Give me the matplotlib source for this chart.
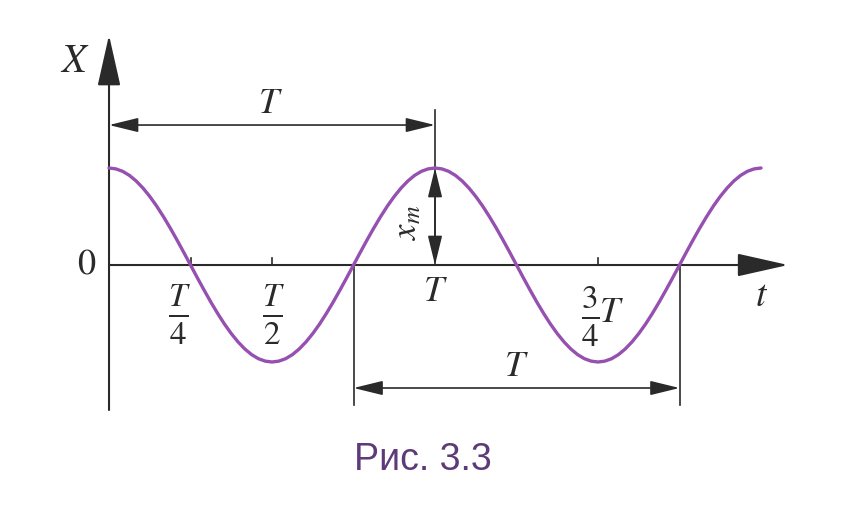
import matplotlib
matplotlib.use("Agg")
import matplotlib.pyplot as plt

plt.rcParams["mathtext.fontset"] = "stix"
plt.rcParams["font.family"] = ["Liberation Serif", "DejaVu Serif"]

# time in units of T, displacement in units of x_m (read at T/48 steps)
t_vals = [k / 48 for k in range(97)]
x_period = [1.0, 0.991, 0.966, 0.924, 0.866, 0.793, 0.707, 0.609, 0.5, 0.383, 0.259, 0.131,
            0.0, -0.131, -0.259, -0.383, -0.5, -0.609, -0.707, -0.793, -0.866, -0.924, -0.966, -0.991,
            -1.0, -0.991, -0.966, -0.924, -0.866, -0.793, -0.707, -0.609, -0.5, -0.383, -0.259, -0.131,
            0.0, 0.131, 0.259, 0.383, 0.5, 0.609, 0.707, 0.793, 0.866, 0.924, 0.966, 0.991]
x_vals = x_period + x_period + [1.0]

tick_pos = [0.25, 0.5, 1.5]
tick_labels = [r"$\frac{T}{4}$", r"$\frac{T}{2}$", r"$\frac{3}{4}$"]
label_x = [0.215, 0.505, 1.475]

axis_col = "#2a2a2a"
curve_col = "#9550b0"
cap_col = "#5e3a78"

fig = plt.figure(figsize=(8.49, 5.24), dpi=100)
ax = fig.add_axes([0, 0, 1, 1])
ax.set_xlim(-0.3344, 2.2699)
ax.set_ylim(-2.670, 2.732)
ax.axis("off")

# axes with arrows
big_head = "-|>,head_length=1.6,head_width=0.36"
ax.annotate("", xy=(0, 2.37), xytext=(0, -1.495),
            arrowprops=dict(arrowstyle=big_head, color=axis_col, lw=1.5,
                            mutation_scale=20, shrinkA=0, shrinkB=0))
ax.annotate("", xy=(2.083, 0), xytext=(0, 0),
            arrowprops=dict(arrowstyle=big_head, color=axis_col, lw=1.5,
                            mutation_scale=20, shrinkA=0, shrinkB=0))

# ticks
for p in tick_pos:
    ax.plot([p, p], [0, 0.075], color=axis_col, lw=1.2)

# curve
ax.plot(t_vals, x_vals, color=curve_col, lw=2.4, solid_capstyle="round", zorder=3)

# period markers
small_head = "<|-|>,head_length=0.9,head_width=0.22"
ax.plot([1, 1], [0, 1.6], color=axis_col, lw=1.2)
ax.annotate("", xy=(0, 1.443), xytext=(1, 1.443),
            arrowprops=dict(arrowstyle=small_head, color=axis_col, lw=1.2,
                            mutation_scale=20, shrinkA=0, shrinkB=0))
ax.text(0.494, 1.65, "$T$", fontsize=26, ha="center", va="center", color=axis_col)

ax.plot([0.75, 0.75], [0, -1.443], color=axis_col, lw=1.2)
ax.plot([1.75, 1.75], [0, -1.443], color=axis_col, lw=1.2)
ax.annotate("", xy=(0.75, -1.268), xytext=(1.75, -1.268),
            arrowprops=dict(arrowstyle=small_head, color=axis_col, lw=1.2,
                            mutation_scale=20, shrinkA=0, shrinkB=0))
ax.text(1.25, -1.06, "$T$", fontsize=26, ha="center", va="center", color=axis_col)

# amplitude
ax.annotate("", xy=(1, 1.0), xytext=(1, 0),
            arrowprops=dict(arrowstyle=small_head, color=axis_col, lw=1.2,
                            mutation_scale=20, shrinkA=0, shrinkB=0))
ax.text(0.917, 0.44, "$x_m$", fontsize=25, rotation=90, ha="center", va="center",
        color=axis_col)

# labels
ax.text(-0.07, 0, "$0$", fontsize=26, ha="center", va="center", color=axis_col)
ax.text(-0.104, 2.09, "$X$", fontsize=29, ha="center", va="center", color=axis_col)
ax.text(2.003, -0.33, "$t$", fontsize=27, ha="center", va="center", color=axis_col)
ax.text(1.0, -0.28, "$T$", fontsize=26, ha="center", va="center", color=axis_col)
for lx, lab in zip(label_x, tick_labels):
    ax.text(lx, -0.53, lab, fontsize=34, ha="center", va="center", color=axis_col)
ax.text(1.542, -0.5, "$T$", fontsize=26, ha="center", va="center", color=axis_col)

fig.text(0.498, 0.122, "Рис. 3.3", fontsize=27, ha="center", va="center",
         color=cap_col, family=["Liberation Sans", "DejaVu Sans"])

fig.savefig("out.png", dpi=100)
